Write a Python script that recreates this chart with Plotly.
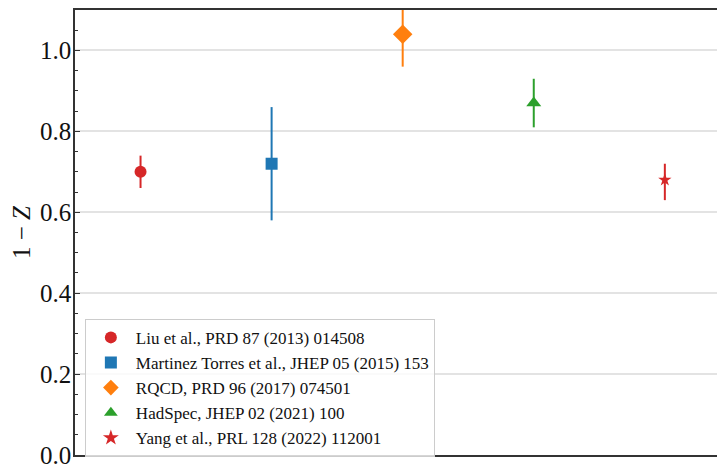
import plotly.graph_objects as go

labels = [
    "Liu et al., PRD 87 (2013) 014508",
    "Martinez Torres et al., JHEP 05 (2015) 153",
    "RQCD, PRD 96 (2017) 074501",
    "HadSpec, JHEP 02 (2021) 100",
    "Yang et al., PRL 128 (2022) 112001",
]
x_pos = [1, 2, 3, 4, 5]
values = [0.70, 0.72, 1.04, 0.87, 0.68]
err_plus = [0.04, 0.14, 0.08, 0.06, 0.04]
err_minus = [0.04, 0.14, 0.08, 0.06, 0.05]
colors = ["#d62728", "#1f77b4", "#ff7f0e", "#2ca02c", "#d62728"]
symbols = ["circle", "square", "diamond", "triangle-up", "star"]
sizes = [12, 12, 15, 13, 10]
y_ticks = [0.0, 0.2, 0.4, 0.6, 0.8, 1.0]

fig = go.Figure()
for i in range(len(labels)):
    fig.add_trace(go.Scatter(
        x=[x_pos[i]], y=[values[i]], mode="markers", name=labels[i],
        marker=dict(symbol=symbols[i], size=sizes[i], color=colors[i], line=dict(width=0)),
        error_y=dict(type="data", symmetric=False, array=[err_plus[i]], arrayminus=[err_minus[i]],
                     color=colors[i], thickness=2, width=0),
    ))

font_family = "Times New Roman, Liberation Serif, serif"
fig.update_layout(
    width=725, height=464,
    margin=dict(l=67, r=0, t=0, b=17),
    paper_bgcolor="white", plot_bgcolor="white",
    font=dict(family=font_family, color="#111111"),
    showlegend=True,
    legend=dict(
        x=0.015, y=0.306, xanchor="left", yanchor="top",
        bgcolor="rgba(255,255,255,0.8)", bordercolor="#cccccc", borderwidth=1,
        font=dict(family=font_family, size=17, color="#111111"),
        itemsizing="constant", tracegroupgap=0, itemwidth=40,
    ),
    xaxis=dict(
        range=[0.5, 5.52], showgrid=False, zeroline=False,
        showticklabels=False, ticks="",
        showline=True, linecolor="#333333", linewidth=1.5, mirror=True,
    ),
    yaxis=dict(
        range=[0, 1.1], tickvals=y_ticks, ticktext=[f"{v:.1f}" for v in y_ticks],
        showgrid=True, gridcolor="#e3e3e3", gridwidth=1.5, zeroline=False,
        ticks="inside", ticklen=5, tickwidth=1.2, tickcolor="#333333",
        minor=dict(dtick=0.05, tick0=0, ticks="inside", ticklen=3, tickwidth=1, tickcolor="#333333", showgrid=False),
        showline=True, linecolor="#333333", linewidth=1.5,
        tickfont=dict(family=font_family, size=25, color="#111111"),
        ticklabelstandoff=-3,
        title=dict(text="1 − <i>Z</i>", font=dict(family=font_family, size=25, color="#111111"), standoff=3),
        automargin=False,
    ),
)

fig.write_html("out.html")
